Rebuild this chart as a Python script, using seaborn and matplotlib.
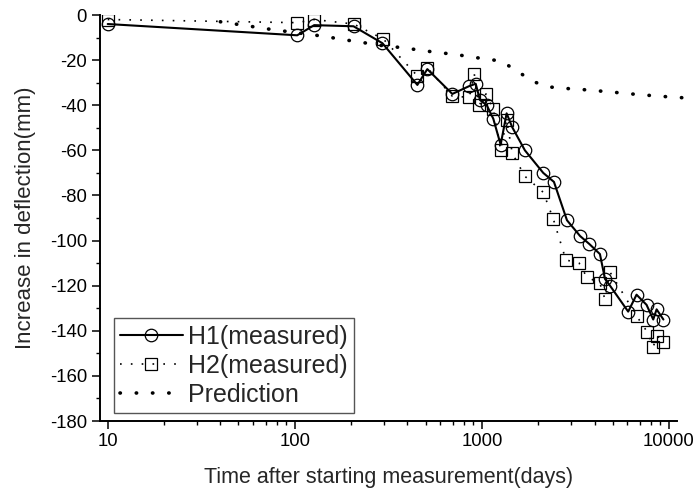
import matplotlib
matplotlib.use("Agg")
import matplotlib.pyplot as plt
import pandas as pd
import seaborn as sns
from matplotlib.ticker import FixedLocator, LogLocator, MultipleLocator, NullFormatter

# H1 measured deflection
h1_days = [10, 103, 127, 206, 294, 452, 511, 695, 857, 927, 977, 1062, 1151, 1260, 1356,
           1454, 1698, 2128, 2428, 2850, 3350, 3750, 4276, 4550, 4840, 6054, 6710, 7590,
           8240, 8590, 9340]
h1_defl = [-4, -9, -4.5, -5, -12.5, -31, -24, -35, -31.5, -30.5, -37.7, -40, -46, -57.5, -43.6,
           -49.8, -60, -70, -74, -91, -98, -101.5, -106, -117, -120, -131.5, -124, -128.5,
           -135, -130.5, -135]

# H2 measured deflection
h2_days = [10, 103, 127, 206, 297, 452, 511, 695, 857, 910, 968, 1052, 1151, 1260, 1356,
           1454, 1698, 2128, 2410, 2813, 3310, 3625, 4276, 4550, 4840, 6710, 7650, 8240,
           8660, 9340]
h2_defl = [-2, -3.4, -2, -4, -10.6, -27, -23.4, -36, -36.5, -26, -40, -35, -41.7, -60, -46.5,
           -61.3, -71.5, -78.6, -90.5, -108.6, -110, -116, -119, -126, -114, -133.4, -140.5,
           -147, -142.3, -144.8]

# prediction curve
pred_days = [40, 49, 60, 72, 87, 128, 154, 188, 228, 274, 332, 401, 486, 590, 712, 863, 1047,
             1265, 1534, 1858, 2234, 2722, 3274, 4000, 5000, 6300, 8000, 10000, 12500]
pred_defl = [-3, -4.1, -5.2, -6.2, -7.1, -8.9, -9.9, -11.1, -12.1, -13.3, -14, -14.8, -15.8,
             -16.7, -17.4, -18.5, -19.5, -20.4, -24.7, -29.3, -31.8, -32.5, -32.9, -33.5,
             -34.2, -35, -35.7, -36.3, -36.8]

df_h1 = pd.DataFrame({"days": h1_days, "defl": h1_defl})
df_h2 = pd.DataFrame({"days": h2_days, "defl": h2_defl})
df_pr = pd.DataFrame({"days": pred_days, "defl": pred_defl})

sns.set_theme(style="ticks")
plt.rcParams['font.family'] = ['Liberation Sans', 'DejaVu Sans']
plt.rcParams['axes.unicode_minus'] = False

fig = plt.figure(figsize=(6.97, 4.95), dpi=100)
ax = fig.add_axes([99.5 / 697, 74 / 495, 577.5 / 697, 406 / 495])

sns.lineplot(data=df_h1, x="days", y="defl", ax=ax, estimator=None, color="black",
             linewidth=1.5, marker="o", markersize=9, markerfacecolor="none",
             markeredgecolor="black", markeredgewidth=0.9, label="H1(measured)")
sns.lineplot(data=df_h2, x="days", y="defl", ax=ax, estimator=None, color="black",
             linewidth=1.2, linestyle=(0, (1, 5.5)), marker="s", markersize=8,
             markerfacecolor="none", markeredgecolor="black", markeredgewidth=0.9,
             label="H2(measured)")
sns.lineplot(data=df_pr, x="days", y="defl", ax=ax, estimator=None, color="black",
             linewidth=2.6, linestyle=(0, (0.1, 4.4)), dash_capstyle="round",
             clip_on=False, label="Prediction")

ax.set_xscale("log")
ax.set_xlim(9.04, 11040)
ax.set_ylim(-180, 0)
ax.xaxis.set_major_locator(FixedLocator([10, 100, 1000, 10000]))
ax.set_xticklabels(["10", "100", "1000", "10000"])
ax.xaxis.set_minor_locator(LogLocator(base=10, subs=range(2, 10)))
ax.xaxis.set_minor_formatter(NullFormatter())
ax.yaxis.set_major_locator(MultipleLocator(20))
ax.yaxis.set_minor_locator(MultipleLocator(10))

sns.despine(ax=ax)
for side in ["left", "bottom"]:
    ax.spines[side].set_linewidth(1.4)
    ax.spines[side].set_color("black")
ax.tick_params(which="major", direction="out", length=6, width=1.1, labelsize=13.3,
               colors="black", pad=3)
ax.tick_params(which="minor", direction="out", length=3.2, width=1.0, colors="black")

ax.set_xlabel("Time after starting measurement(days)", fontsize=15.5, labelpad=12)
ax.set_ylabel("Increase in deflection(mm)", fontsize=16, labelpad=10)

leg = ax.legend(loc="lower left", bbox_to_anchor=(0.025, 0.02), borderaxespad=0,
                fontsize=18, handlelength=2.5, handletextpad=0.2, labelspacing=0.2,
                borderpad=0.25, fancybox=False, framealpha=1, edgecolor="#555555",
                numpoints=1)
leg.get_frame().set_linewidth(1.0)

fig.savefig("out.png", dpi=100)
